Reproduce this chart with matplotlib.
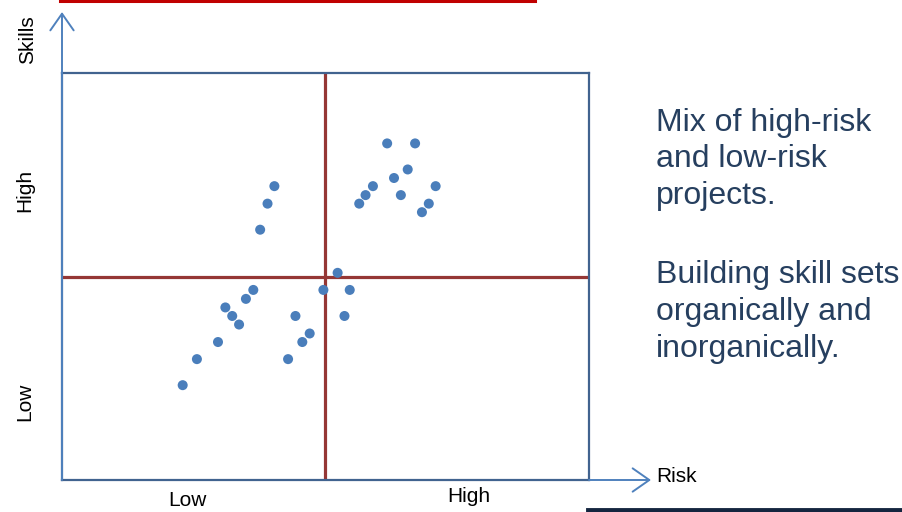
import matplotlib.pyplot as plt
from matplotlib.lines import Line2D
from matplotlib.patches import FancyArrowPatch

plt.rcParams['font.family'] = ['Liberation Sans', 'DejaVu Sans']

# Project positions: risk (x) and skills (y), on a 0-10 scale
risk = [4.03, 3.90, 3.76, 5.23, 4.96, 5.46, 3.63, 3.49, 3.10, 3.23,
        3.36, 4.43, 5.36, 4.70, 4.56, 2.96, 2.56, 4.29, 2.29,
        6.17, 6.70, 6.56, 6.30, 5.90, 7.09, 5.76, 6.43, 5.64, 6.96, 6.83]
skills = [7.22, 6.79, 6.15, 5.09, 4.67, 4.67, 4.67, 4.45, 4.24, 4.03,
          3.82, 4.03, 4.03, 3.60, 3.39, 3.39, 2.97, 2.97, 2.33,
          8.27, 8.27, 7.63, 7.42, 7.22, 7.22, 7.00, 7.00, 6.79, 6.79, 6.58]

quadrant_split = 5.0
axis_range = (0, 10)
note_lines = ["Mix of high-risk", "and low-risk", "projects.", "",
              "Building skill sets", "organically and", "inorganically."]

W, H = 903, 512
fig = plt.figure(figsize=(W / 100, H / 100), dpi=100)

def fx(px):
    return px / W

def fy(py):
    return 1 - py / H

ax = fig.add_axes([fx(62), fy(480), (589 - 62) / W, (480 - 73) / H])
ax.set_xlim(*axis_range)
ax.set_ylim(*axis_range)
ax.set_xticks([])
ax.set_yticks([])
for sp in ax.spines.values():
    sp.set_color('#41638f')
    sp.set_linewidth(1.6)

ax.axvline(quadrant_split, color='#953735', lw=2.3, zorder=1)
ax.axhline(quadrant_split, color='#953735', lw=2.3, zorder=1)
ax.scatter(risk, skills, s=52, color='#4a7ebb', edgecolors='none', zorder=3)

# Axis arrows with open heads
arrow_kw = dict(arrowstyle='->,head_length=1.0,head_width=0.7',
                mutation_scale=12, color='#4f81bd', lw=1.4,
                shrinkA=0, shrinkB=0, transform=fig.transFigure)
fig.add_artist(FancyArrowPatch((fx(62), fy(480)), (fx(62), fy(12)), **arrow_kw))
fig.add_artist(FancyArrowPatch((fx(589), fy(480)), (fx(651), fy(480)), **arrow_kw))

# Decorative rules
fig.add_artist(Line2D([fx(60), fx(535)], [fy(1), fy(1)], color='#c00000', lw=2.2,
                      transform=fig.transFigure))
fig.add_artist(Line2D([fx(588), fx(903)], [fy(510), fy(510)], color='#14253f', lw=3.5,
                      transform=fig.transFigure))

# Axis labels
lab = dict(fontsize=15, color='black', ha='center', va='center')
fig.text(fx(28), fy(40), 'Skills', rotation=90, **lab)
fig.text(fx(25), fy(190), 'High', rotation=90, **lab)
fig.text(fx(25), fy(402), 'Low', rotation=90, **lab)
fig.text(fx(187), fy(501), 'Low', **lab)
fig.text(fx(469), fy(497), 'High', **lab)
fig.text(fx(656), fy(476), 'Risk', fontsize=15, color='black', ha='left', va='center')

# Side note
baselines = [131, 167, 204, 0, 283, 320, 357]
for line, base in zip(note_lines, baselines):
    if line:
        fig.text(fx(656), fy(base), line, fontsize=23, color='#263f5f',
                 ha='left', va='baseline')

fig.savefig('out.png', dpi=100)
